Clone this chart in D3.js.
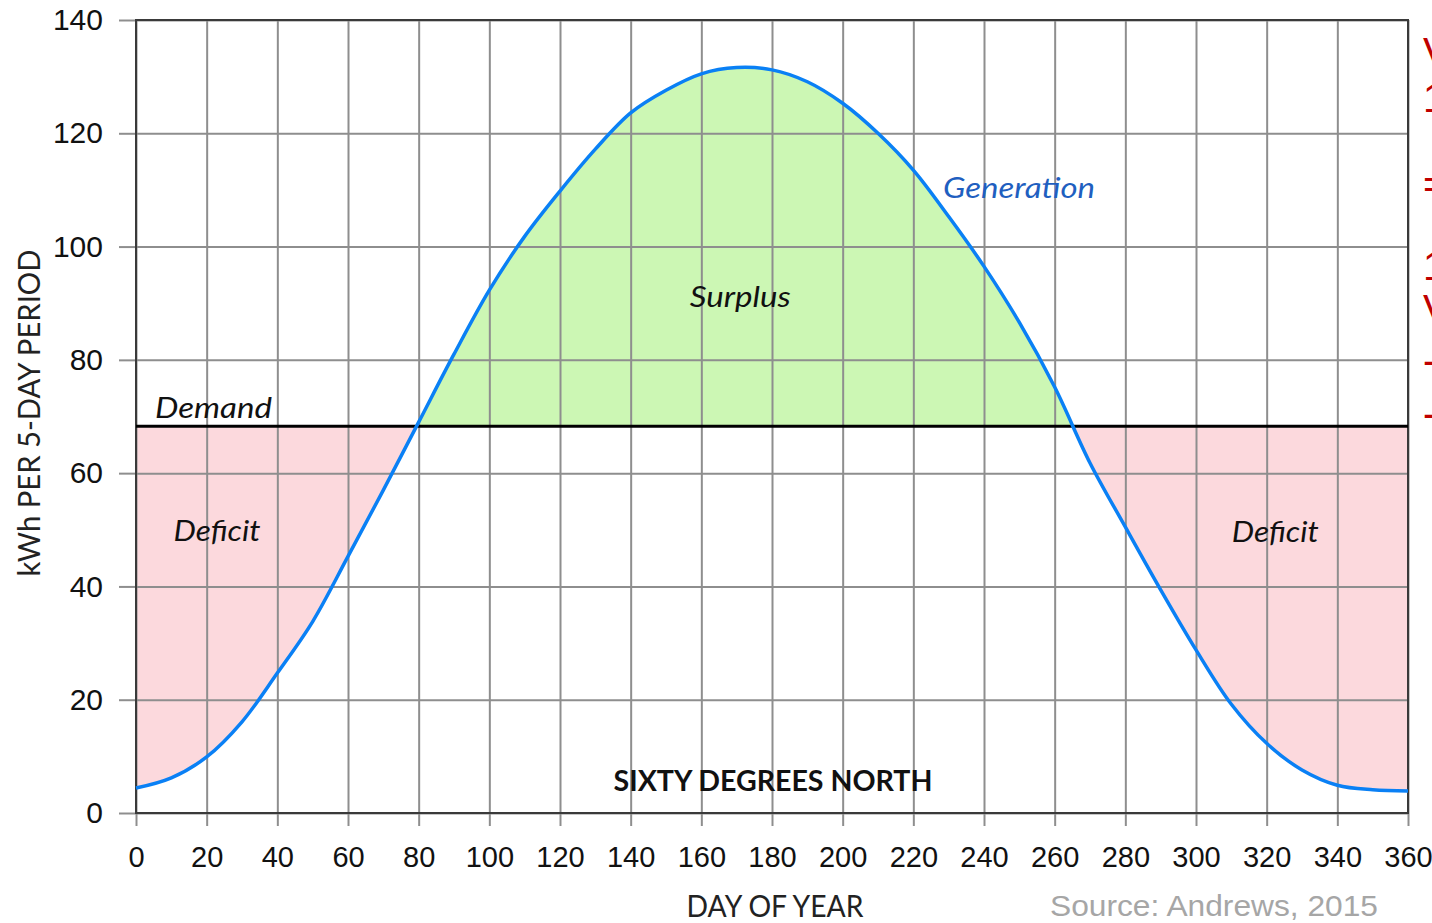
<!DOCTYPE html>
<html>
<head>
<meta charset="utf-8">
<script src="https://cdn.jsdelivr.net/npm/d3@7"></script>
<style>
  html, body { margin: 0; padding: 0; background: #ffffff; overflow: hidden; }
  svg { display: block; }
</style>
</head>
<body>
<div id="chart"></div>
<script>
// Data
const days = [0, 10, 20, 30, 40, 50, 60, 70, 80, 90, 100, 110, 120, 130, 140, 150, 160, 170, 180,
	190, 200, 210, 220, 230, 240, 250, 260, 270, 280, 290, 300, 310, 320, 330, 340, 350, 360];
const generation = [4.4, 6.2, 9.9, 16.1, 24.7, 33.8, 45.3, 57, 69, 81, 92.3, 101.8, 109.8, 117.2, 123.6, 127.6, 130.5, 131.6, 131.2,
	129.1, 125.3, 120, 113.5, 105.3, 96.5, 86.6, 75.2, 61.8, 50.5, 39.4, 28.8, 19.2, 12.3, 7.6, 4.9, 4.1, 3.9];
const demand = 68.3;
const xTicks = d3.range(0, 361, 20);
const yTicks = d3.range(0, 141, 20);

// Region labels: [text, day, value, width]
const regionLabels = [
	['Surplus', 171, 89.4, 101],
	['Deficit', 22.9, 48, 87],
	['Deficit', 322.4, 47.8, 87]
];
// Clipped red text at the far right edge
const edgeText = ['V', '1', '=', '1', 'V', '-', '-'];
const edgeRows = [66, 112, 198, 280, 323, 374, 427];

const width = 1432;
const height = 923;

const svg = d3.select('#chart')
	.append('svg')
	.attr('width', width)
	.attr('height', height);

const x = d3.scaleLinear().domain([0, 360]).range([136, 1408]);
const y = d3.scaleLinear().domain([0, 140]).range([813, 20]);

const pts = days.map((d, i) => ({ day: d, v: generation[i] }));
const curve = d3.curveCatmullRom.alpha(0.5);

// Clip areas above and below the demand line
const defs = svg.append('defs');
defs.append('clipPath').attr('id', 'above')
	.append('rect')
	.attr('x', x(0)).attr('y', y(140))
	.attr('width', x(360) - x(0)).attr('height', y(demand) - y(140));
defs.append('clipPath').attr('id', 'below')
	.append('rect')
	.attr('x', x(0)).attr('y', y(demand))
	.attr('width', x(360) - x(0)).attr('height', y(0) - y(demand));

const area = d3.area()
	.x((d) => x(d.day))
	.y0(y(demand))
	.y1((d) => y(d.v))
	.curve(curve);

svg.append('path')
	.datum(pts)
	.attr('d', area)
	.attr('fill', '#ccf7b4')
	.attr('clip-path', 'url(#above)');

svg.append('path')
	.datum(pts)
	.attr('d', area)
	.attr('fill', '#fcd9dd')
	.attr('clip-path', 'url(#below)');

// Grid lines
svg.append('g')
	.attr('transform', `translate(0,${y(0)})`)
	.call(d3.axisBottom(x).tickValues(xTicks).tickSize(-(y(0) - y(140))).tickFormat(''))
	.call((g) => g.select('.domain').remove())
	.call((g) => g.selectAll('line').attr('stroke', '#8e8e8e').attr('stroke-width', 2));

svg.append('g')
	.attr('transform', `translate(${x(0)},0)`)
	.call(d3.axisLeft(y).tickValues(yTicks).tickSize(-(x(360) - x(0))).tickFormat(''))
	.call((g) => g.select('.domain').remove())
	.call((g) => g.selectAll('line').attr('stroke', '#8e8e8e').attr('stroke-width', 2));

// Axes with labels
const xAxis = svg.append('g')
	.attr('transform', `translate(0,${y(0)})`)
	.call(d3.axisBottom(x).tickValues(xTicks).tickSize(13).tickPadding(20).tickSizeOuter(0));
xAxis.select('.domain').remove();
xAxis.selectAll('line').attr('stroke', '#8e8e8e').attr('stroke-width', 2);
xAxis.selectAll('text')
	.attr('font-family', 'Liberation Sans, Arial, sans-serif')
	.attr('font-size', 29)
	.attr('fill', '#111');

const yAxis = svg.append('g')
	.attr('transform', `translate(${x(0)},0)`)
	.call(d3.axisLeft(y).tickValues(yTicks).tickSize(17).tickPadding(16).tickSizeOuter(0));
yAxis.select('.domain').remove();
yAxis.selectAll('line').attr('stroke', '#8e8e8e').attr('stroke-width', 2);
yAxis.selectAll('text')
	.attr('font-family', 'Liberation Sans, Arial, sans-serif')
	.attr('font-size', 30)
	.attr('fill', '#111');

// Plot frame
svg.append('rect')
	.attr('x', x(0)).attr('y', y(140))
	.attr('width', x(360) - x(0)).attr('height', y(0) - y(140))
	.attr('fill', 'none')
	.attr('stroke', '#3a3a3a')
	.attr('stroke-width', 2);

// Demand line
svg.append('line')
	.attr('x1', x(0)).attr('x2', x(360))
	.attr('y1', y(demand)).attr('y2', y(demand))
	.attr('stroke', '#000')
	.attr('stroke-width', 3);

// Generation curve
svg.append('path')
	.datum(pts)
	.attr('d', d3.line().x((d) => x(d.day)).y((d) => y(d.v)).curve(curve))
	.attr('fill', 'none')
	.attr('stroke', '#0a80f5')
	.attr('stroke-width', 3.5);

// Annotations
const labelFont = 'Lato, "Open Sans", sans-serif';

svg.append('text')
	.attr('x', 155).attr('y', 418)
	.attr('font-family', labelFont).attr('font-style', 'italic').attr('font-size', 29)
	.attr('textLength', 117).attr('lengthAdjust', 'spacingAndGlyphs')
	.attr('fill', '#111')
	.text('Demand');

svg.append('text')
	.attr('x', 943).attr('y', 198)
	.attr('font-family', labelFont).attr('font-style', 'italic').attr('font-size', 29)
	.attr('textLength', 152).attr('lengthAdjust', 'spacingAndGlyphs')
	.attr('fill', '#1f5fc0')
	.text('Generation');

svg.selectAll('.region')
	.data(regionLabels)
	.join('text')
	.attr('class', 'region')
	.attr('x', (d) => x(d[1]))
	.attr('y', (d) => y(d[2]))
	.attr('text-anchor', 'middle')
	.attr('font-family', labelFont).attr('font-style', 'italic').attr('font-size', 29)
	.attr('textLength', (d) => d[3]).attr('lengthAdjust', 'spacingAndGlyphs')
	.attr('fill', '#111')
	.text((d) => d[0]);

svg.append('text')
	.attr('x', 773).attr('y', 791)
	.attr('text-anchor', 'middle')
	.attr('font-family', labelFont).attr('font-weight', 'bold').attr('font-size', 28)
	.attr('textLength', 319).attr('lengthAdjust', 'spacingAndGlyphs')
	.attr('fill', '#111')
	.text('SIXTY DEGREES NORTH');

svg.append('text')
	.attr('x', 775).attr('y', 917)
	.attr('text-anchor', 'middle')
	.attr('font-family', labelFont).attr('font-size', 30)
	.attr('textLength', 177).attr('lengthAdjust', 'spacingAndGlyphs')
	.attr('fill', '#222')
	.text('DAY OF YEAR');

svg.append('text')
	.attr('transform', 'translate(40,413) rotate(-90)')
	.attr('text-anchor', 'middle')
	.attr('font-family', labelFont).attr('font-size', 30)
	.attr('textLength', 327).attr('lengthAdjust', 'spacingAndGlyphs')
	.attr('fill', '#222')
	.text('kWh PER 5-DAY PERIOD');

svg.append('text')
	.attr('x', 1050).attr('y', 916)
	.attr('font-family', 'Liberation Sans, Arial, sans-serif').attr('font-size', 30)
	.attr('textLength', 328).attr('lengthAdjust', 'spacingAndGlyphs')
	.attr('fill', '#a6a6a6')
	.text('Source: Andrews, 2015');

svg.selectAll('.edge')
	.data(edgeText)
	.join('text')
	.attr('class', 'edge')
	.attr('x', 1423)
	.attr('y', (d, i) => edgeRows[i])
	.attr('font-family', 'Liberation Sans, Arial, sans-serif').attr('font-size', 40)
	.attr('fill', '#c00000')
	.text((d) => d);
</script>
</body>
</html>
